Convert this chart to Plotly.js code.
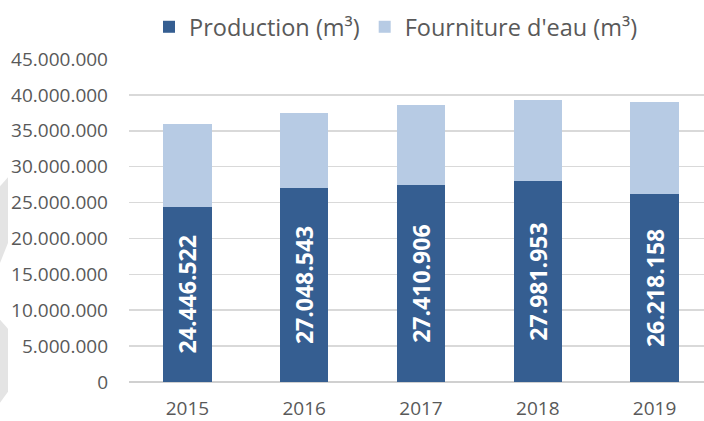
<!DOCTYPE html>
<html>
<head>
<meta charset="utf-8">
<script src="https://cdn.plot.ly/plotly-3.0.1.min.js"></script>
<style>
html,body{margin:0;padding:0;overflow:hidden;background:#fff;width:704px;height:421px;}
#chart{width:720px;height:421px;}
</style>
</head>
<body>
<div id="chart"></div>
<script>
// ---- data ----
const years = ['2015', '2016', '2017', '2018', '2019'];
const production = [24446522, 27048543, 27410906, 27981953, 26218158];
const fourniture = [11500000, 10440000, 11190000, 11320000, 12840000];
const seriesNames = ['Production (m³)', "Fourniture d'eau (m³)"];
const yTicks = [0, 5000000, 10000000, 15000000, 20000000, 25000000, 30000000, 35000000, 40000000, 45000000];

// ---- layout helpers ----
const W = 720, H = 421;
const M = {l: 129, r: 7, t: 58.5, b: 38.7};
const pw = W - M.l - M.r, ph = H - M.t - M.b;
function px(x){ return (x - M.l) / pw; }
function py(y){ return (H - M.b - y) / ph; }
function poly(pts){
  return pts.map((p,i)=>(i?'L':'M')+px(p[0]).toFixed(4)+','+py(p[1]).toFixed(4)).join(' ')+' Z';
}

const font = '"Open Sans", "Noto Sans", sans-serif';

const traces = [
  {
    type: 'bar', x: years, y: production, name: seriesNames[0],
    marker: {color: '#355E91'},
    texttemplate: '%{y:,d}', textposition: 'inside', insidetextanchor: 'middle',
    textangle: -90, constraintext: 'none',
    textfont: {family: font, size: 23, color: '#FFFFFF', weight: 'bold'},
    hoverinfo: 'skip'
  },
  {
    type: 'bar', x: years, y: fourniture, name: seriesNames[1],
    marker: {color: '#B7CBE4'},
    hoverinfo: 'skip'
  }
];

const layout = {
  width: W, height: H,
  margin: M,
  barmode: 'stack',
  bargap: 0.584,
  separators: ',.',
  paper_bgcolor: '#FFFFFF', plot_bgcolor: '#FFFFFF',
  font: {family: font, color: '#595959'},
  showlegend: true,
  legend: {
    orientation: 'h', xref: 'container', x: 149 / W, xanchor: 'left',
    yref: 'container', y: 1 - 27 / H, yanchor: 'middle',
    font: {family: font, size: 23.5, color: '#595959'},
    bgcolor: 'rgba(0,0,0,0)', traceorder: 'normal'
  },
  xaxis: {
    type: 'category', range: [-0.5, 4.5],
    showgrid: false, showline: false, zeroline: false, ticks: '',
    tickfont: {family: font, size: 19, color: '#595959'},
    ticklabelstandoff: 13
  },
  yaxis: {
    range: [0, 45000000], tickvals: yTicks, tickformat: ',d',
    showgrid: true, gridcolor: '#D9D9D9', gridwidth: 1.5,
    zeroline: true, zerolinecolor: '#D0D0D0', zerolinewidth: 1.5,
    showline: false, ticks: '',
    tickfont: {family: font, size: 19, color: '#595959'},
    ticklabelstandoff: 20
  },
  shapes: [
    {type: 'path', xref: 'paper', yref: 'paper', layer: 'below', line: {width: 0}, fillcolor: '#E4E4E4',
     path: poly([[0,186],[8,177],[8,243],[0,263]])},
    {type: 'path', xref: 'paper', yref: 'paper', layer: 'below', line: {width: 0}, fillcolor: '#E4E4E4',
     path: poly([[0,320],[8,329],[8,392],[0,403]])}
  ]
};

Plotly.newPlot('chart', traces, layout, {staticPlot: true, displayModeBar: false});
</script>
</body>
</html>
